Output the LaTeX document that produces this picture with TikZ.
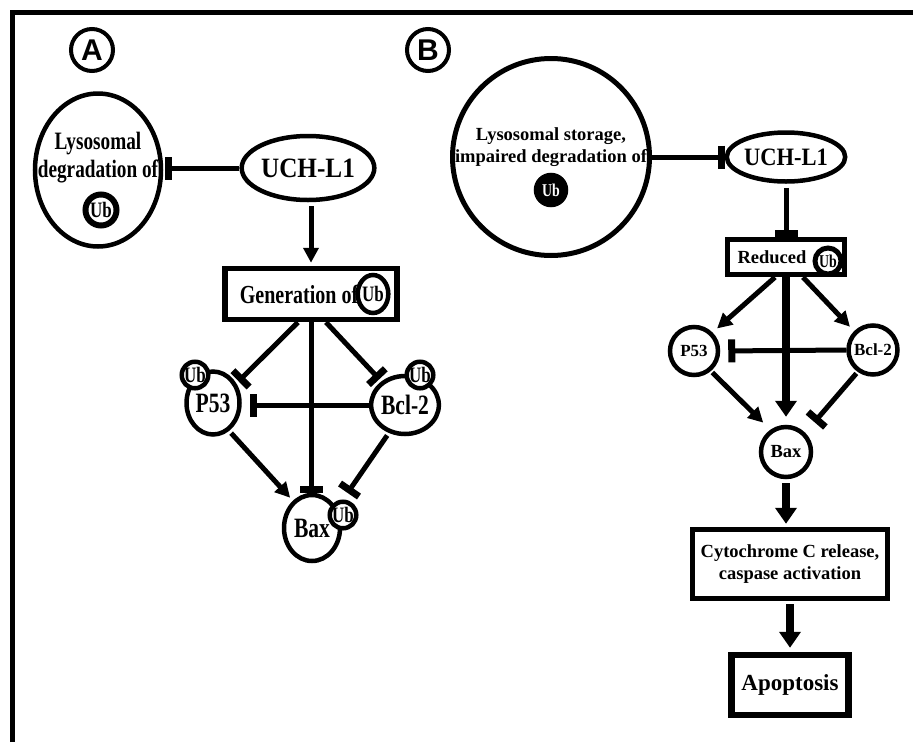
\documentclass[tikz,border=0pt]{standalone}
\usepackage{fontspec}
\setmainfont{Liberation Serif}
\newfontfamily\narrowfont{Liberation Serif}[FakeStretch=0.77]
\newfontfamily\midfont{Liberation Serif}[FakeStretch=0.9]
\newfontfamily\panelfont{Liberation Sans}
\usetikzlibrary{arrows.meta, shapes.geometric, positioning}

\newcommand{\fLyso}{\narrowfont\bfseries\fontsize{25}{28}\selectfont}
\newcommand{\fGen}{\narrowfont\bfseries\fontsize{26}{28}\selectfont}
\newcommand{\fProt}{\narrowfont\bfseries\fontsize{28}{30}\selectfont}
\newcommand{\fUch}{\midfont\bfseries\fontsize{28}{30}\selectfont}
\newcommand{\fUchB}{\midfont\bfseries\fontsize{25}{27}\selectfont}
\newcommand{\fTxt}{\bfseries\fontsize{18.5}{22}\selectfont}
\newcommand{\fSmall}{\bfseries\fontsize{17}{19}\selectfont}
\newcommand{\fApop}{\bfseries\fontsize{23}{25}\selectfont}
\newcommand{\fUb}{\narrowfont\bfseries\fontsize{22}{22}\selectfont}
\newcommand{\fUbB}{\narrowfont\bfseries\fontsize{18}{18}\selectfont}

\begin{document}
\begin{tikzpicture}[
            x = 1pt, y = -1pt,
            > = {Triangle[length=15pt, width=15pt]},
            line width = 5pt
        ]

        \tikzstyle{oval}=[draw, ellipse, line width=4.5pt, inner sep=0pt]
        \tikzstyle{roundnode}=[draw, circle, line width=4.5pt, inner sep=0pt]
        \tikzstyle{boxnode}=[draw, rectangle, line width=5.5pt, inner sep=0pt, align=center]
        \tikzstyle{ubtag}=[draw, ellipse, line width=4.5pt, fill=white, inner sep=0pt, font=\fUb]
        \tikzstyle{plain}=[inner sep=0pt, align=center]
        \tikzstyle{panel}=[draw, circle, line width=4pt, minimum size=42pt, inner sep=0pt,
            font=\panelfont\bfseries\fontsize{30}{30}\selectfont]
        \tikzset{
            act/.style={->, line width=5pt},
            bigact/.style={-{Triangle[length=16pt, width=21pt]}, line width=8pt},
            inh/.style={-{Bar[width=23pt, line width=7pt]}, line width=5pt}
        }

        \useasboundingbox (0,0) rectangle (913,742);
        \draw[line width=4.5pt] (12.5,742) -- (12.5,12.5) -- (913,12.5);

        \node[panel] (labA) at (92,50) {A};
        \node[panel] (labB) at (428,50) {B};

        % panel A
        \node[oval, minimum width=126pt, minimum height=153pt] (lysoA) at (98,170) {};
        \node[plain, font=\fLyso] (lysoAtxt) at (98,158) {Lysosomal\\degradation of};
        \node[ubtag, circle, line width=6pt, minimum size=31pt] (ubLysoA) at (101,210) {Ub};
        \node[oval, minimum width=123pt, minimum height=64pt, font=\fUch] (uchA) at (308,168) {UCH-L1};
        \node[boxnode, minimum width=172pt, minimum height=51pt, font=\fGen] (genA) at (311,294) {Generation of\hspace*{24pt}};
        \node[ubtag, minimum width=29pt, minimum height=38pt] (ubGenA) at (373,294) {Ub};
        \node[oval, minimum width=53pt, minimum height=63pt, font=\fProt] (p53A) at (213,403) {P53};
        \node[oval, minimum width=52pt, minimum height=58pt, font=\fProt] (bclA) at (405,405) {Bcl-2};
        \node[oval, minimum width=56pt, minimum height=66pt, font=\fProt] (baxA) at (312,528) {Bax};
        \node[ubtag, circle, minimum size=26pt] (ubP53A) at (195,375) {Ub};
        \node[ubtag, circle, minimum size=26pt] (ubBclA) at (420,375) {Ub};
        \node[ubtag, circle, minimum size=25pt] (ubBaxA) at (343,515) {Ub};

        \draw[inh, shorten >=2pt] (uchA.west) -- (uchA.west -| lysoA.east);
        \draw[act, shorten <=4pt, shorten >=3pt] (genA.north |- uchA.south) -- (genA.north);
        \draw[inh, shorten >=3pt] ([xshift=-13pt]genA.south) -- (p53A.40);
        \draw[inh] (genA.south) -- (genA.south |- baxA.north);
        \draw[inh, shorten >=3pt] ([xshift=15pt]genA.south) -- (bclA.135);
        \draw[inh, shorten >=8pt] (bclA.west) -- (bclA.west -| p53A.east);
        \draw[act, shorten <=3pt, shorten >=4pt] (p53A.300) -- (baxA.125);
        \draw[inh, shorten <=3pt, shorten >=8pt] (bclA.240) -- (ubBaxA.north);

        % panel B
        \node[roundnode, line width=5pt, minimum size=197pt] (lysoB) at (551,157) {};
        \node[plain, font=\fTxt] (lysoBtxt) at (551,147) {Lysosomal storage,\\impaired degradation of};
        \node[ubtag, circle, fill=black, text=white, minimum size=30pt, font=\fUbB] (ubLysoB) at (551,190) {Ub};
        \node[oval, minimum width=118pt, minimum height=49pt, font=\fUchB] (uchB) at (786,157) {UCH-L1};
        \node[boxnode, minimum width=117pt, minimum height=35pt, font=\fTxt] (redB) at (786,257) {\raisebox{-4pt}{Reduced}\hspace*{28pt}};
        \node[ubtag, circle, line width=5pt, minimum size=26pt, font=\fUbB] (ubRedB) at (828,261) {Ub};
        \node[roundnode, minimum size=48pt, font=\fSmall] (p53B) at (694,351) {P53};
        \node[roundnode, minimum size=49pt, font=\fSmall] (bclB) at (873,350) {Bcl-2};
        \node[roundnode, minimum size=50pt, font=\fTxt] (baxB) at (786,452) {Bax};
        \node[boxnode, minimum width=195pt, minimum height=69pt, font=\fTxt] (cytoB) at (790,564) {Cytochrome C release,\\caspase activation};
        \node[boxnode, line width=6.5pt, minimum width=117pt, minimum height=60pt, font=\fApop] (apopB) at (790,685) {Apoptosis};

        \draw[inh] (lysoB.east) -- (lysoB.east -| uchB.west);
        \draw[inh, shorten <=4pt] (uchB.south) -- (redB.north);
        \draw[act, shorten >=6pt] ([xshift=-11pt]redB.south) -- (p53B.45);
        \draw[act, shorten >=6pt] ([xshift=17pt]redB.south) -- (bclB.135);
        \draw[bigact, shorten >=8pt] (redB.south) -- (baxB.north);
        \draw[inh, shorten >=8pt] (bclB.west) -- (p53B.east);
        \draw[act, shorten <=2pt, shorten >=10pt] (p53B.310) -- (baxB.125);
        \draw[inh, shorten <=2pt, shorten >=14pt] (bclB.235) -- (baxB.45);
        \draw[bigact, shorten <=4pt, shorten >=3pt] (baxB.south) -- (baxB.south |- cytoB.north);
        \draw[bigact, shorten <=3pt, shorten >=4pt] (cytoB.south) -- (cytoB.south |- apopB.north);

    \end{tikzpicture}
\end{document}
